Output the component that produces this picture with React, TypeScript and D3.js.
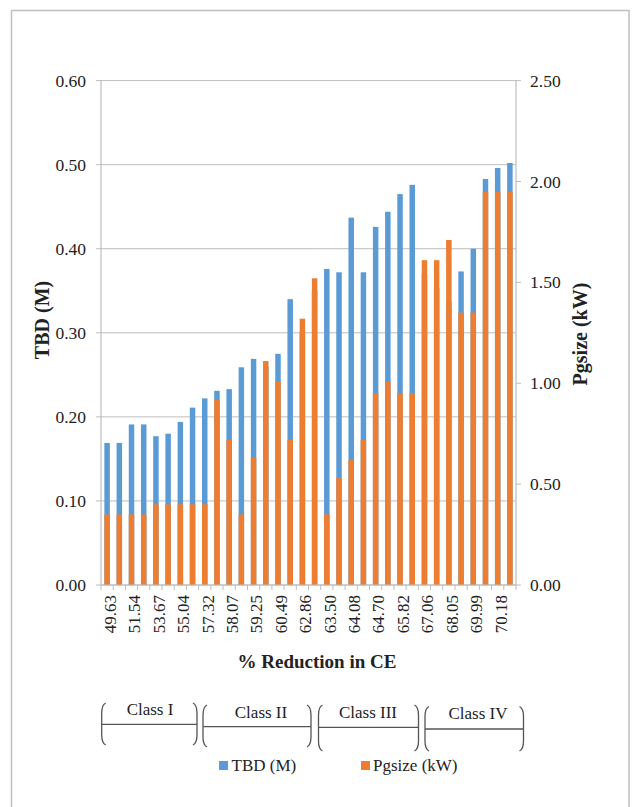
import React from "react";
import * as d3 from "d3";

// ---- data ----
const tbdValues = [
  0.169, 0.169, 0.191, 0.191, 0.177, 0.18, 0.194, 0.211, 0.222, 0.231, 0.233, 0.259,
  0.269, 0.26, 0.275, 0.34, 0.3, 0.35, 0.376, 0.372, 0.437, 0.372, 0.426, 0.444,
  0.465, 0.476, 0.37, 0.353, 0.337, 0.373, 0.4, 0.483, 0.496, 0.502,
];
const pgsizeValues = [
  0.35, 0.35, 0.35, 0.35, 0.4, 0.4, 0.4, 0.4, 0.4, 0.92, 0.72, 0.35,
  0.63, 1.11, 1.01, 0.72, 1.32, 1.52, 0.35, 0.53, 0.62, 0.72, 0.95, 1.01,
  0.95, 0.95, 1.61, 1.61, 1.71, 1.35, 1.35, 1.95, 1.95, 1.95,
];
// labels shown on every second category
const xLabels = [
  "49.63", "51.54", "53.67", "55.04", "57.32", "58.07", "59.25", "60.49", "62.86",
  "63.50", "64.08", "64.70", "65.82", "67.06", "68.05", "69.99", "70.18",
];
const leftTicks = [0, 0.1, 0.2, 0.3, 0.4, 0.5, 0.6];
const rightTicks = [0, 0.5, 1.0, 1.5, 2.0, 2.5];
const classNames = ["Class I", "Class II", "Class III", "Class IV"];
const seriesNames = ["TBD (M)", "Pgsize (kW)"];

// ---- layout ----
const W = 636;
const H = 807;
const plotLeft = 101;
const plotRight = 516;
const plotTop = 80.6;
const plotBottom = 585;
const BLUE = "#5B9BD5";
const ORANGE = "#ED7D31";
const GRID = "#BDBDBD";
const FONT = '"Liberation Serif", "Times New Roman", Times, serif';

const classBoxes = [
  { L: 101.7, R: 197, T: 703, B: 745, M: 724.3, tx: 150, ty: 715 },
  { L: 203, R: 311, T: 705, B: 747, M: 726.7, tx: 261, ty: 718 },
  { L: 318.5, R: 418.5, T: 705, B: 751, M: 727.3, tx: 368, ty: 718 },
  { L: 425, R: 523.5, T: 706.5, B: 751, M: 729, tx: 478, ty: 719 },
];

function bracketPath(b: { L: number; R: number; T: number; B: number; M: number }) {
  const { L, R, T, B, M } = b;
  const left = `M${L + 4},${T} Q${L},${T + 2} ${L},${T + 10} L${L},${B - 10} Q${L},${B - 2} ${L + 4},${B}`;
  const right = `M${R - 4},${T} Q${R},${T + 2} ${R},${T + 10} L${R},${B - 10} Q${R},${B - 2} ${R - 4},${B}`;
  const mid = `M${L},${M} L${R},${M}`;
  return left + " " + right + " " + mid;
}

const txt: React.CSSProperties = { fontFamily: FONT };

export default function App() {
  const idx = d3.range(tbdValues.length);
  const x = d3
    .scaleBand<number>()
    .domain(idx)
    .range([plotLeft, plotRight])
    .paddingInner(0.55)
    .paddingOuter(0.275);
  const step = (plotRight - plotLeft) / tbdValues.length;
  const yL = d3.scaleLinear().domain([0, 0.6]).range([plotBottom, plotTop]);
  const yR = d3.scaleLinear().domain([0, 2.5]).range([plotBottom, plotTop]);
  const bw = x.bandwidth();

  return (
    <svg
      width={W}
      height={H}
      style={{ position: "absolute", left: 0, top: 0, background: "#fff", fontFamily: FONT }}
    >
      <rect x={0} y={0} width={W} height={H} fill="#fff" />
      {/* outer frame */}
      <path d={`M11.5,${H + 2} L11.5,10.5 L629,10.5 L629,${H + 2}`} fill="none" stroke="#BFBFBF" strokeWidth={1.5} />

      {/* gridlines + left ticks */}
      {leftTicks.map((t) => (
        <g key={"gl" + t}>
          <line x1={plotLeft - 5} x2={plotRight} y1={yL(t)} y2={yL(t)} stroke={GRID} strokeWidth={1} />
          <text x={86} y={yL(t)} dy="0.35em" textAnchor="end" fontSize={17.5} fill="#222" style={txt}>
            {t.toFixed(2)}
          </text>
        </g>
      ))}

      {/* bars: TBD (primary) */}
      {idx.map((i) => (
        <rect
          key={"b" + i}
          x={x(i)}
          width={bw}
          y={yL(tbdValues[i])}
          height={plotBottom - yL(tbdValues[i])}
          fill={BLUE}
        />
      ))}
      {/* bars: Pgsize (secondary) */}
      {idx.map((i) => (
        <rect
          key={"o" + i}
          x={x(i)}
          width={bw}
          y={yR(pgsizeValues[i])}
          height={plotBottom - yR(pgsizeValues[i])}
          fill={ORANGE}
        />
      ))}

      {/* left axis line */}
      <line x1={plotLeft} x2={plotLeft} y1={plotTop} y2={plotBottom} stroke={GRID} strokeWidth={1.2} />
      {/* right axis */}
      <line x1={plotRight} x2={plotRight} y1={plotTop} y2={plotBottom} stroke={GRID} strokeWidth={1.2} />
      {rightTicks.map((t) => (
        <g key={"rt" + t}>
          <line x1={plotRight} x2={plotRight + 5} y1={yR(t)} y2={yR(t)} stroke={GRID} strokeWidth={1} />
          <text x={530} y={yR(t)} dy="0.35em" textAnchor="start" fontSize={17.5} fill="#222" style={txt}>
            {t.toFixed(2)}
          </text>
        </g>
      ))}

      {/* x axis */}
      <line x1={plotLeft} x2={plotRight} y1={plotBottom} y2={plotBottom} stroke={GRID} strokeWidth={1.2} />
      {d3.range(tbdValues.length + 1).map((k) => (
        <line
          key={"xt" + k}
          x1={plotLeft + k * step}
          x2={plotLeft + k * step}
          y1={plotBottom}
          y2={plotBottom + 5}
          stroke={GRID}
          strokeWidth={1}
        />
      ))}
      {xLabels.map((lab, k) => {
        const cx = (x(k * 2) as number) + bw / 2;
        return (
          <text
            key={"xl" + k}
            transform={`translate(${cx},${plotBottom + 10}) rotate(-90)`}
            dy="0.52em"
            textAnchor="end"
            fontSize={17}
            fill="#222"
            style={txt}
          >
            {lab}
          </text>
        );
      })}

      {/* axis titles */}
      <text transform="translate(49,320) rotate(-90)" textAnchor="middle" fontSize={20} fontWeight="bold" fill="#222" style={txt}>
        TBD (M)
      </text>
      <text transform="translate(587,334) rotate(-90)" textAnchor="middle" fontSize={20} fontWeight="bold" fill="#222" style={txt}>
        Pgsize (kW)
      </text>
      <text x={317} y={668} textAnchor="middle" fontSize={19} fontWeight="bold" fill="#222" style={txt}>
        % Reduction in CE
      </text>

      {/* class brackets */}
      {classBoxes.map((b, i) => (
        <g key={"cls" + i}>
          <path d={bracketPath(b)} fill="none" stroke="#555" strokeWidth={1.3} />
          <text x={b.tx} y={b.ty} textAnchor="middle" fontSize={17} fill="#222" style={txt}>
            {classNames[i]}
          </text>
        </g>
      ))}

      {/* legend */}
      <rect x={219} y={761} width={9} height={9} fill={BLUE} />
      <text x={231.5} y={771} fontSize={17} fill="#222" style={txt}>
        {seriesNames[0]}
      </text>
      <rect x={361} y={761} width={9} height={9} fill={ORANGE} />
      <text x={373} y={771} fontSize={17} fill="#222" style={txt}>
        {seriesNames[1]}
      </text>
    </svg>
  );
}
